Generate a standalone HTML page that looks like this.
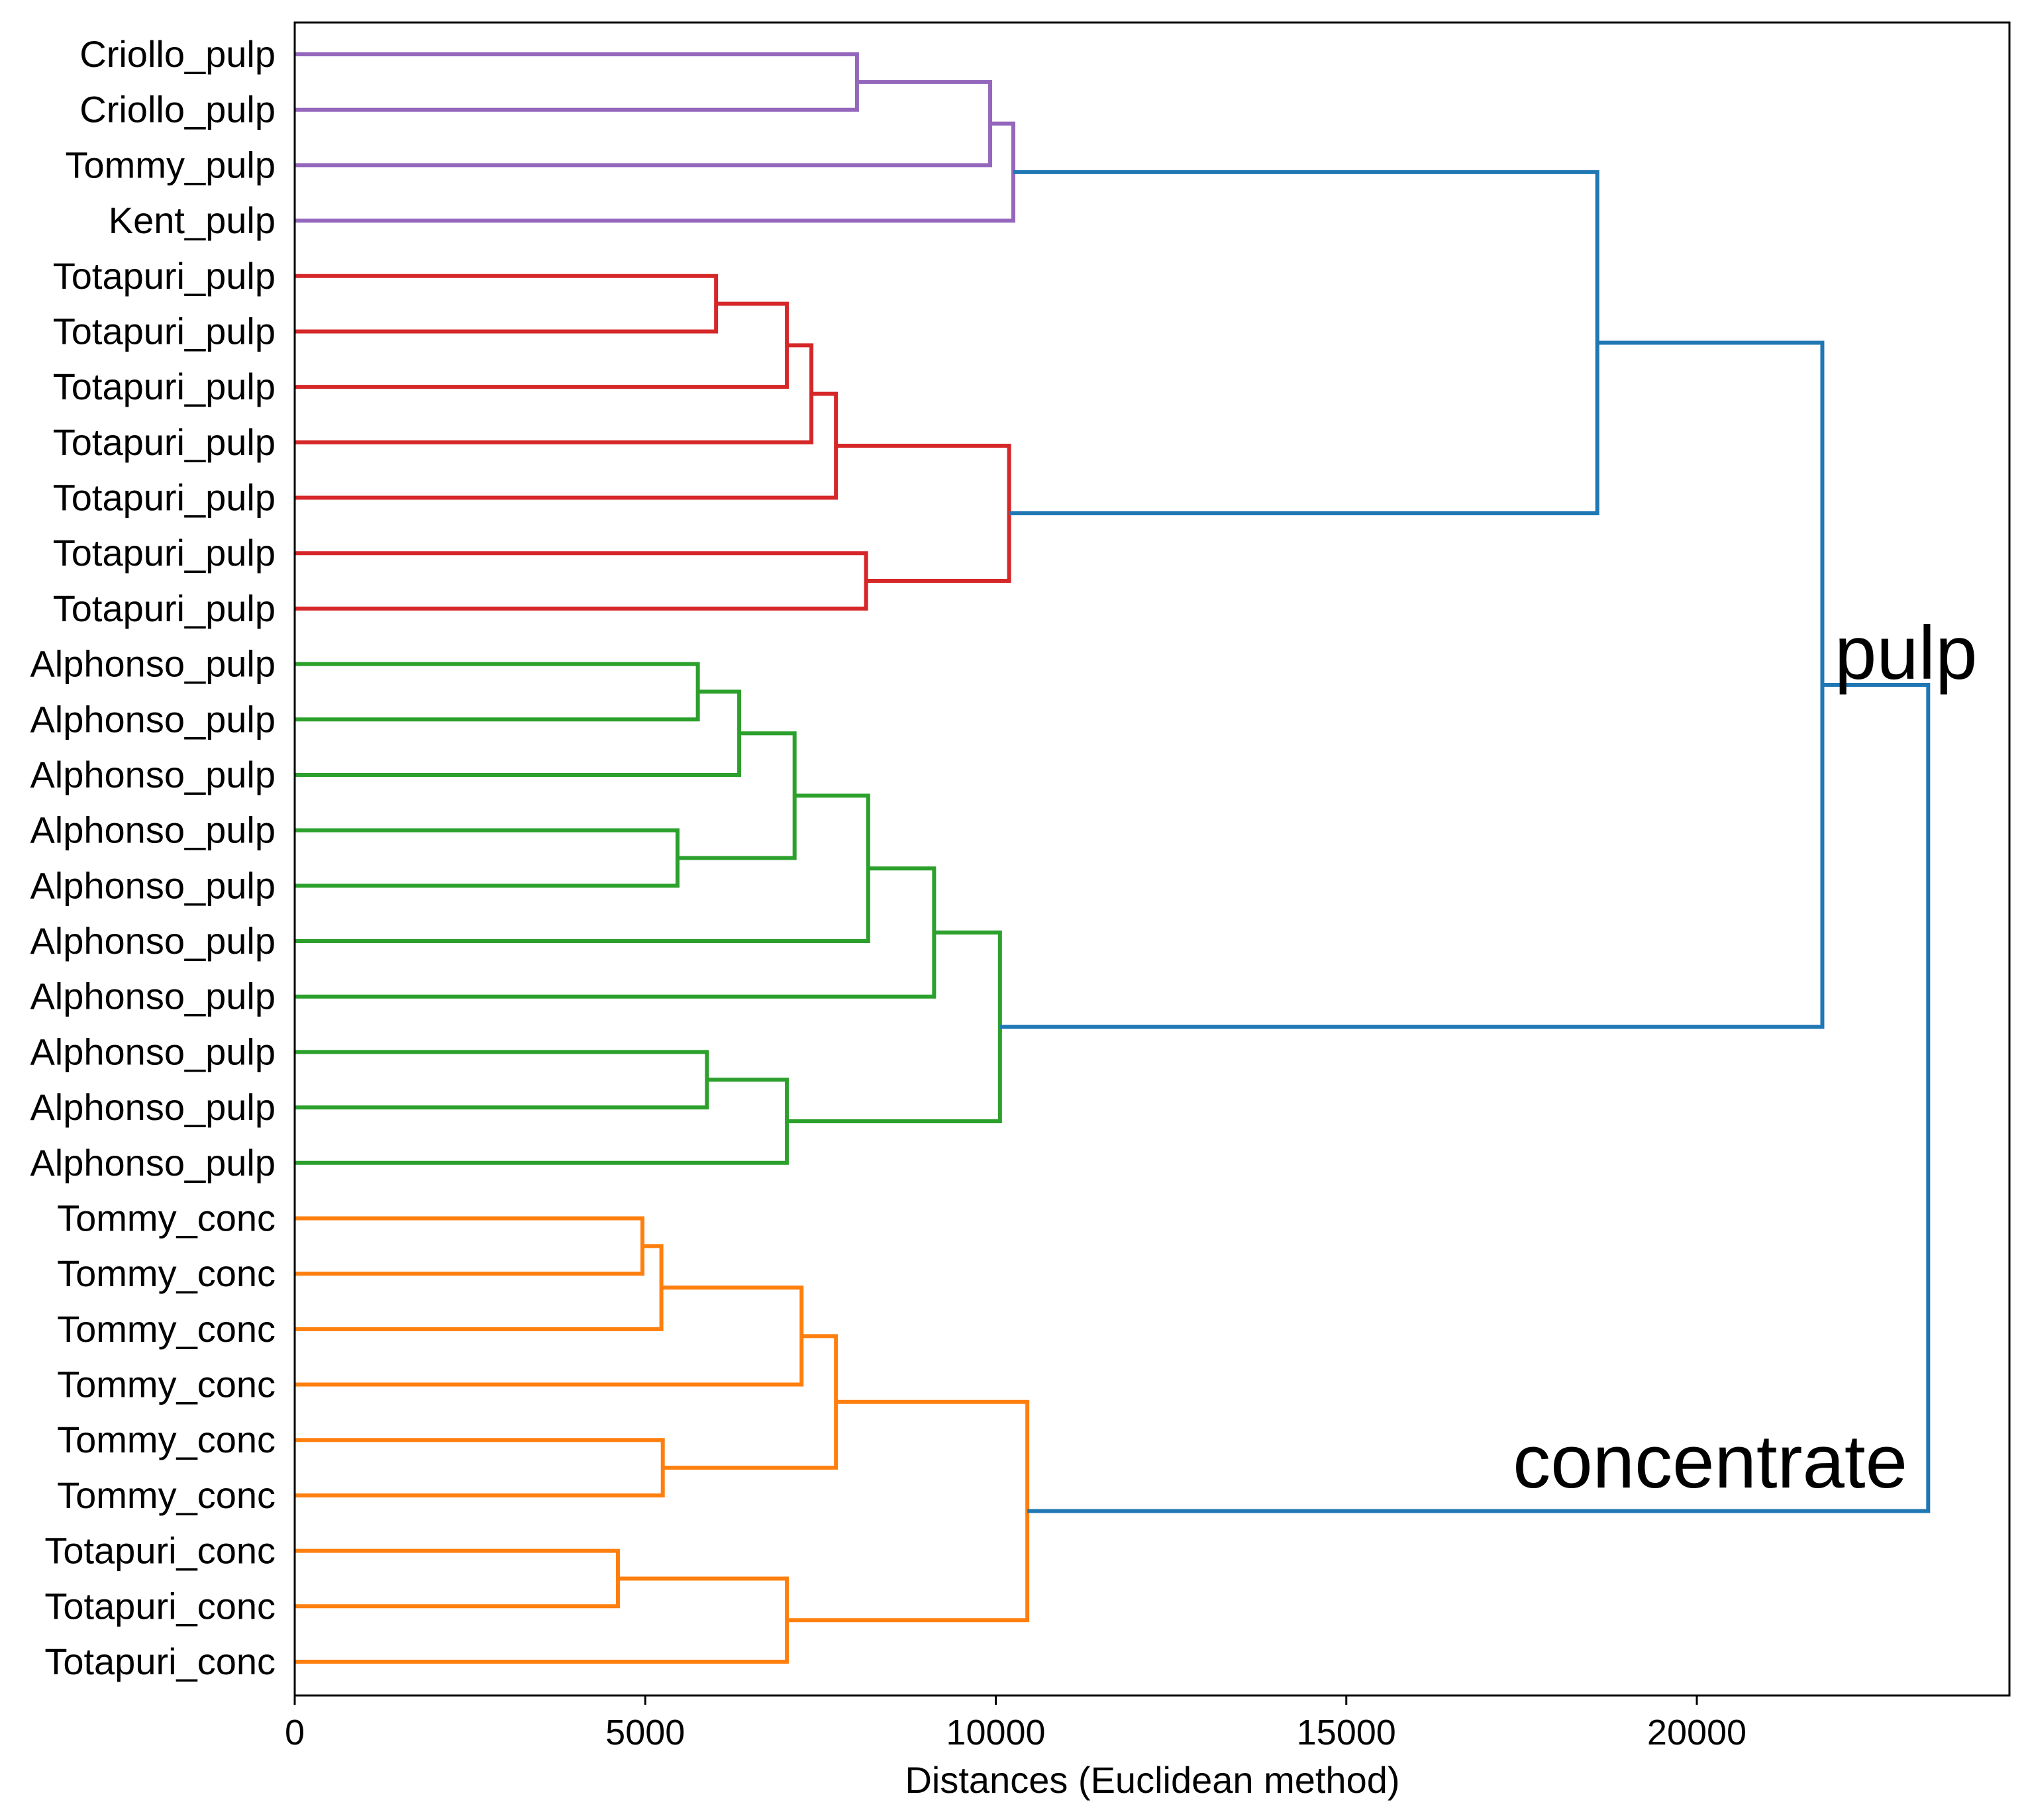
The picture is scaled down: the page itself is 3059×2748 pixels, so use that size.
<!DOCTYPE html>
<html><head><meta charset="utf-8"><style>
html,body{margin:0;padding:0;background:#fff}
svg{display:block;font-family:"Liberation Sans",sans-serif}
</style></head><body>
<svg id="chart" width="3059" height="2748" viewBox="0 0 3059 2748" xmlns="http://www.w3.org/2000/svg">
<rect x="0" y="0" width="3059" height="2748" fill="#fff"/>
<g id="marks"></g>
<g id="labels"></g>
<g id="ticks"></g>
<rect x="445" y="34" width="2589" height="2526" fill="none" stroke="#000" stroke-width="3"/>
<text x="1740" y="2707" font-size="56" text-anchor="middle">Distances (Euclidean method)</text>
<text x="2770" y="1025" font-size="114">pulp</text>
<text x="2880" y="2246" font-size="114" text-anchor="end">concentrate</text>
</svg>
<script>
const leafLabels = ["Criollo_pulp","Criollo_pulp","Tommy_pulp","Kent_pulp",
"Totapuri_pulp","Totapuri_pulp","Totapuri_pulp","Totapuri_pulp","Totapuri_pulp","Totapuri_pulp","Totapuri_pulp",
"Alphonso_pulp","Alphonso_pulp","Alphonso_pulp","Alphonso_pulp","Alphonso_pulp","Alphonso_pulp","Alphonso_pulp","Alphonso_pulp","Alphonso_pulp","Alphonso_pulp",
"Tommy_conc","Tommy_conc","Tommy_conc","Tommy_conc","Tommy_conc","Tommy_conc","Totapuri_conc","Totapuri_conc","Totapuri_conc"];
const mergeLeft  = [0,30,31,4,33,34,35,9,36,32,11,40,14,41,43,44,18,46,45,39,21,50,51,25,52,27,55,54,49];
const mergeRight = [1,2,3,5,6,7,8,10,37,38,12,13,15,42,16,17,19,20,47,48,22,23,24,26,53,28,29,56,57];
const mergeHeight = [8020,9920,10250,6010,7020,7370,7720,8150,10190,18580,5750,6340,5460,7130,8180,9120,5880,7020,10060,21790,4960,5230,7230,5250,7720,4610,7020,10450,23300];
const mergeColor = ["p","p","p","r","r","r","r","r","r","b","g","g","g","g","g","g","g","g","g","b","o","o","o","o","o","o","o","o","b"];
const xTicks = [0,5000,10000,15000,20000];

const palette = {p:"#9467bd",r:"#d62728",g:"#2ca02c",o:"#ff7f0e",b:"#1f77b4"};
const NS="http://www.w3.org/2000/svg";
const X0=445, XPER=2117/20000, Y0=82, YSTEP=(2509-82)/29, AXB=2560;
const xs=v=>X0+v*XPER;
const ys=i=>Y0+i*YSTEP;
const nodeX=[], nodeY=[];
leafLabels.forEach((l,i)=>{nodeX.push(0);nodeY.push(ys(i));});
const marks=document.getElementById('marks');
for(let k=0;k<mergeHeight.length;k++){
  const a=mergeLeft[k], b=mergeRight[k], h=mergeHeight[k];
  const d=`M${xs(nodeX[a])},${nodeY[a]}H${xs(h)}V${nodeY[b]}H${xs(nodeX[b])}`;
  const p=document.createElementNS(NS,'path');
  p.setAttribute('d',d);p.setAttribute('fill','none');
  p.setAttribute('stroke',palette[mergeColor[k]]);p.setAttribute('stroke-width','6');
  
  
  marks.appendChild(p);
  nodeX.push(h);nodeY.push((nodeY[a]+nodeY[b])/2);
}
const lg=document.getElementById('labels');
leafLabels.forEach((l,i)=>{
  const t=document.createElementNS(NS,'text');
  t.setAttribute('x',416);t.setAttribute('y',ys(i)+19);
  t.setAttribute('text-anchor','end');t.setAttribute('font-size','56');
  t.textContent=l;
  
  
  lg.appendChild(t);
});
const tg=document.getElementById('ticks');
xTicks.forEach(v=>{
  const ln=document.createElementNS(NS,'line');
  ln.setAttribute('x1',xs(v));ln.setAttribute('x2',xs(v));
  ln.setAttribute('y1',AXB);ln.setAttribute('y2',AXB+14);
  ln.setAttribute('stroke','#000');ln.setAttribute('stroke-width','3');
  
  
  tg.appendChild(ln);
  const t=document.createElementNS(NS,'text');
  t.setAttribute('x',xs(v));t.setAttribute('y',AXB+74);
  t.setAttribute('text-anchor','middle');t.setAttribute('font-size','54');
  t.textContent=v;
  
  
  tg.appendChild(t);
});
</script>
</body></html>
